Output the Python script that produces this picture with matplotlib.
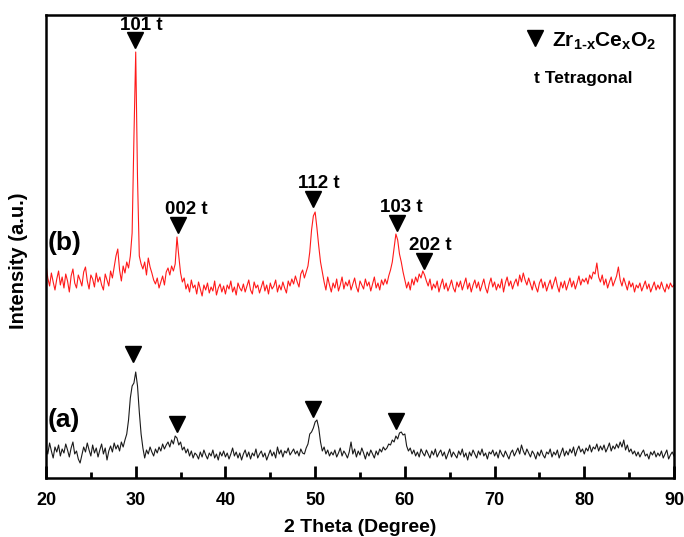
import numpy as np
import matplotlib
matplotlib.use("Agg")
import matplotlib.pyplot as plt
from matplotlib.ticker import MultipleLocator

plt.rcParams['font.family'] = ['Liberation Sans', 'DejaVu Sans']
plt.rcParams['font.weight'] = 'bold'
plt.rcParams['mathtext.fontset'] = 'custom'
plt.rcParams['mathtext.rm'] = 'Liberation Sans:bold'
plt.rcParams['mathtext.bf'] = 'Liberation Sans:bold'
plt.rcParams['mathtext.it'] = 'Liberation Sans:bold'

# 2-theta grid, 20..90 step 0.2
two_theta = np.round(np.arange(20.0, 90.0001, 0.2), 1)

# Sample (b) intensity (arbitrary units, offset)
sample_b = [
    214, 200, 192, 205, 196, 188, 199, 207, 193, 201,
    190, 204, 197, 186, 202, 209, 195, 190, 203, 198,
    192, 206, 211, 197, 189, 203, 199, 191, 205, 196,
    201, 193, 188, 204, 198, 192, 207, 200, 211, 222,
    229, 208, 197, 212, 205, 216, 210, 222, 245, 340,
    426, 300, 222, 214, 209, 216, 203, 220, 211, 205,
    198, 194, 200, 190, 196, 202, 193, 206, 210, 203,
    212, 207, 214, 241, 222, 205, 196, 200, 189, 194,
    186, 198, 190, 193, 184, 196, 189, 182, 193, 188,
    195, 185, 191, 187, 197, 183, 190, 194, 186, 192,
    184, 193, 189, 197, 186, 191, 183, 195, 190, 187,
    194, 186, 192, 198, 188, 184, 196, 190, 193, 185,
    191, 197, 187, 193, 184, 195, 189, 192, 198, 186,
    193, 188, 196, 190, 185, 197, 192, 199, 194, 202,
    196, 191, 204, 208, 200, 206, 212, 226, 248, 262,
    266, 250, 232, 216, 206, 196, 188, 201, 193, 186,
    195, 190, 199, 187, 193, 201, 189, 196, 192, 198,
    188, 194, 200, 191, 186, 197, 193, 189, 199, 192,
    196, 187, 194, 201, 190, 195, 188, 198, 193, 199,
    194, 202, 208, 216, 230, 244, 238, 224, 216, 206,
    198, 190, 196, 188, 199, 193, 201, 196, 204, 200,
    207, 203, 197, 192, 199, 188, 194, 190, 197, 186,
    193, 199, 189, 195, 187, 192, 198, 190, 186, 196,
    191, 197, 188, 194, 200, 189, 195, 186, 193, 198,
    190, 196, 187, 193, 199, 190, 185, 194, 200, 191,
    196, 188, 194, 190, 199, 186, 195, 201, 192, 197,
    189, 195, 199, 192, 203, 196, 205, 198, 193, 200,
    194, 188, 197, 191, 186, 195, 199, 190, 196, 187,
    193, 198, 189, 195, 201, 192, 186, 196, 190, 197,
    188, 194, 200, 191, 197, 189, 195, 202, 193, 199,
    196, 200, 194, 203, 199, 206, 204, 215, 201, 196,
    203, 193, 199, 190, 196, 201, 192, 197, 202, 211,
    198, 192, 200, 194, 188, 197, 191, 195, 186, 193,
    190, 195, 187, 192, 197, 189, 194, 186, 191, 196,
    188, 193, 189, 196, 190, 186, 194, 189, 195, 191,
    193,
]

# Sample (a) intensity
sample_a = [
    30, 24, 35, 27, 20, 31, 26, 33, 22, 29,
    25, 34, 28, 21, 30, 36, 24, 27, 19, 15,
    23, 31, 26, 35, 28, 22, 33, 25, 30, 21,
    28, 34, 24, 30, 18, 27, 32, 26, 35, 29,
    33, 27, 36, 31, 38, 44, 58, 80, 92, 95,
    106, 92, 66, 44, 30, 20, 28, 24, 31, 26,
    22, 29, 25, 31, 27, 34, 29, 33, 36, 31,
    38, 34, 42, 40, 33, 36, 28, 31, 25, 29,
    22, 27, 20, 25, 23, 19, 26, 21, 28, 23,
    19, 25, 22, 28, 20, 24, 18, 26, 22, 27,
    21, 25, 19, 24, 30, 22, 26, 20, 25, 18,
    24, 28, 21, 26, 19, 25, 22, 29, 20, 24,
    27, 21, 25, 18, 23, 28, 22, 26, 20, 31,
    24, 28, 21, 27, 25, 30, 23, 26, 29, 24,
    27, 22, 29, 25, 24, 30, 34, 44, 46, 50,
    56, 58, 50, 36, 27, 31, 24, 28, 22, 26,
    23, 28, 21, 25, 30, 22, 27, 24, 20, 26,
    36, 24, 29, 21, 27, 23, 30, 25, 19, 26,
    22, 28, 24, 20, 27, 23, 29, 26, 31, 28,
    30, 34, 33, 38, 36, 42, 39, 45, 46, 43,
    44, 32, 27, 30, 24, 28, 22, 26, 21, 29,
    25, 22, 28, 24, 20, 27, 23, 29, 21, 25,
    28, 22, 26, 19, 24, 29, 21, 26, 23, 20,
    27, 23, 29, 21, 25, 18, 26, 22, 28, 24,
    20, 27, 23, 29, 22, 25, 19, 26, 24, 28,
    22, 26, 20, 28, 24, 21, 27, 23, 19, 25,
    28, 22, 26, 30, 24, 33, 27, 23, 29, 25,
    21, 27, 24, 19, 26, 22, 28, 23, 20, 26,
    24, 29, 21, 26, 23, 28, 20, 25, 30, 22,
    27, 23, 29, 25, 31, 22, 28, 32, 26, 29,
    24, 30, 27, 33, 26, 31, 29, 34, 27, 32,
    28, 33, 26, 30, 35, 27, 32, 29, 34, 30,
    36, 31, 38, 28, 33, 26, 29, 24, 27, 22,
    26, 21, 25, 28, 22, 24, 19, 26, 23, 27,
    21, 25, 22, 27, 20, 24, 28, 19, 23, 26,
    22,
]

# Peak markers
peak_b_x = [29.9, 34.7, 49.8, 59.1, 62.1]
peak_b_y = [438, 253, 279, 255, 217]
peak_b_labels = ['101 t', '002 t', '112 t', '103 t', '202 t']
peak_b_label_x = [28.25, 33.25, 48.1, 57.25, 60.45]
peak_b_label_y = [452, 268, 295, 270, 233]

peak_a_x = [29.7, 34.6, 49.8, 59.0]
peak_a_y = [124, 54, 69, 57]

fig = plt.figure(figsize=(6.84, 5.37), dpi=100)
ax = fig.add_axes([46/684, 59/537, 628/684, 463/537])

ax.plot(two_theta, sample_b, color='#ff1a1a', lw=0.8)
ax.plot(two_theta, sample_a, color='#1a1a1a', lw=0.8)

ax.plot(peak_b_x, peak_b_y, ls='none', marker='v', ms=11, color='black')
ax.plot(peak_a_x, peak_a_y, ls='none', marker='v', ms=11, color='black')

for lx, ly, lab in zip(peak_b_label_x, peak_b_label_y, peak_b_labels):
    ax.text(lx, ly, lab, ha='left', va='center', fontsize=13.5, fontweight='bold')

ax.text(20.15, 235, '(b)', ha='left', va='center', fontsize=19, fontweight='bold')
ax.text(20.15, 58, '(a)', ha='left', va='center', fontsize=19, fontweight='bold')

# legend-like annotation
ax.plot([74.5], [440], ls='none', marker='v', ms=11, color='black')
ax.text(76.4, 431, r'$\mathbf{Zr_{1\text{-}x}Ce_{x}O_{2}}$', ha='left', va='baseline',
        fontsize=15)
ax.text(74.4, 400, 't Tetragonal', ha='left', va='center', fontsize=12.5, fontweight='bold')

ax.set_xlim(20, 90)
ax.set_ylim(0, 463)
ax.xaxis.set_major_locator(MultipleLocator(10))
ax.xaxis.set_minor_locator(MultipleLocator(5))
ax.tick_params(axis='x', which='major', direction='in', length=9, width=2, pad=10,
               labelsize=13, top=False)
ax.tick_params(axis='x', which='minor', direction='in', length=4.5, width=2, top=False)
ax.set_yticks([])
for lab in ax.get_xticklabels():
    lab.set_fontweight('bold')
for sp in ax.spines.values():
    sp.set_linewidth(1.8)

ax.set_xlabel('2 Theta (Degree)', fontsize=14, fontweight='bold')
ax.xaxis.set_label_coords(0.5, -0.088)
ax.set_ylabel('Intensity (a.u.)', fontsize=14.5, fontweight='bold')
ax.yaxis.set_label_coords(-0.029, 0.469)

fig.savefig('out.png', dpi=100)
